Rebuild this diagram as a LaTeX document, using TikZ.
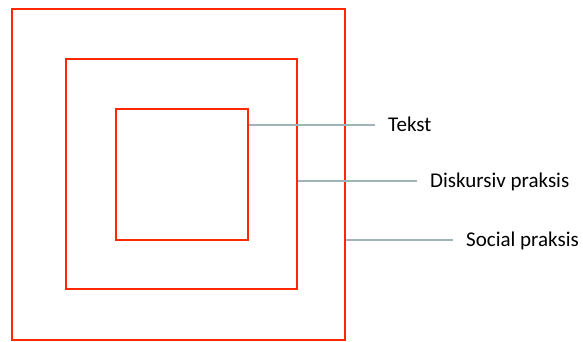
\documentclass[tikz,border=0pt]{standalone}
\usepackage{fontspec}
\setmainfont{Carlito}
\definecolor{boxclr}{RGB}{255,40,0}
\definecolor{leadclr}{RGB}{160,180,184}
\tikzset{ %
  ,every node/.style={font=\fontsize{21}{25}\selectfont}
  ,frame/.style={draw=boxclr, line width=2.2pt, inner sep=0}
  ,lbl/.style={inner xsep=13pt, inner ysep=0, text height=13pt, text depth=0pt, anchor=west}
  ,lead/.style={draw=leadclr, line width=2pt}
}

\begin{document}
\begin{tikzpicture}[x=1pt, y=-1pt]
      \useasboundingbox (0,0) rectangle (583,341);
      \draw
      node[frame, minimum width=333pt, minimum height=331pt] (social) at (178.5,174.5) {}
      node[frame, minimum width=231pt, minimum height=230pt] (disk) at (181.5,174) {}
      node[frame, minimum width=132pt, minimum height=131pt] (text) at (182,174.5) {}
      node[lbl] (tekst) at (375,125) {Tekst}
      node[lbl] (diskprak) at (417,181) {Diskursiv praksis}
      node[lbl] (socprak) at (453,240) {Social praksis};
      \draw [lead] (text.east |- tekst.west) -- (tekst.west)
                   (disk.east |- diskprak.west) -- (diskprak.west)
                   (social.east |- socprak.west) -- (socprak.west);
    \end{tikzpicture}
\end{document}
